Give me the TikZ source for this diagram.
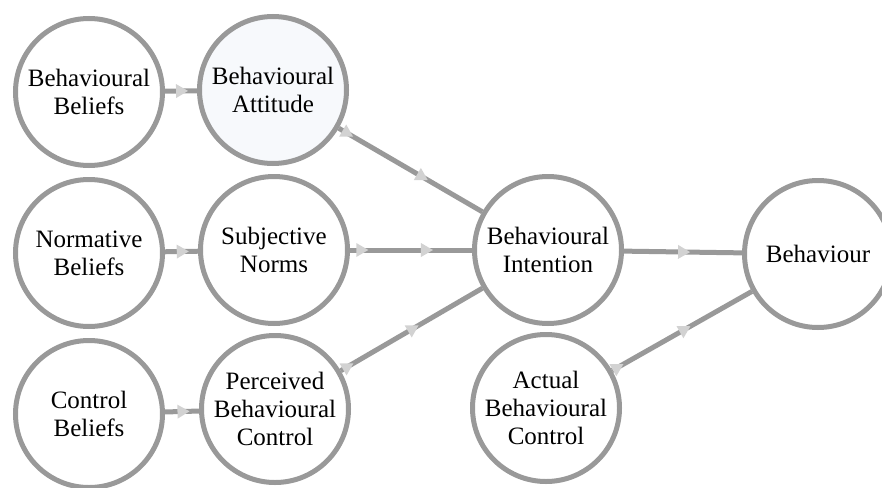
\documentclass[tikz,border=0pt]{standalone}
\usepackage{fontspec}
\setmainfont{Liberation Serif}
\usepackage{xcolor}
\usetikzlibrary{decorations.markings}

\definecolor{linegray}{HTML}{999999}
\definecolor{tipgray}{HTML}{D2D2D2}
\definecolor{softfill}{HTML}{F7F9FC}

\begin{document}
\begin{tikzpicture}[
  x=1pt, y=-1pt,
  concept/.style={circle,draw=linegray,line width=5pt,fill=white,minimum size=147pt,inner sep=0pt,align=center,font=\fontsize{25}{28}\selectfont},
  flow/.style={draw=linegray,line width=5pt},
  tipat/.style={postaction={decorate,decoration={markings,mark=at position #1 with {\fill[tipgray] (-12pt,-7pt) -- (0pt,0pt) -- (-12pt,7pt) -- cycle;}}}}
]
  \clip (0,0) rectangle (882,487);
  \node[concept] (bb) at (89,92) {Behavioural\\Beliefs};
  \node[concept,fill=softfill] (ba) at (273,90) {Behavioural\\Attitude};
  \node[concept] (nb) at (89,253) {Normative\\Beliefs};
  \node[concept] (sn) at (274,250) {Subjective\\Norms};
  \node[concept] (cb) at (89,414) {Control\\Beliefs};
  \node[concept] (pbc) at (275,409) {Perceived\\Behavioural\\Control};
  \node[concept] (bi) at (548,250) {Behavioural\\Intention};
  \node[concept] (abc) at (546,408) {Actual\\Behavioural\\Control};
  \node[concept] (beh) at (818,254) {Behaviour};
  \draw[flow,tipat=0.72] (bb) -- (ba);
  \draw[flow,tipat=0.72] (nb) -- (sn);
  \draw[flow,tipat=0.72] (cb) -- (pbc);
  \draw[flow,tipat=0.10,tipat=0.62] (ba) -- (bi);
  \draw[flow,tipat=0.15,tipat=0.68] (sn) -- (bi);
  \draw[flow,tipat=0.09,tipat=0.55] (pbc) -- (bi);
  \draw[flow,tipat=0.56] (bi) -- (beh);
  \draw[flow,tipat=0.08,tipat=0.56] (abc) -- (beh);
\end{tikzpicture}
\end{document}
